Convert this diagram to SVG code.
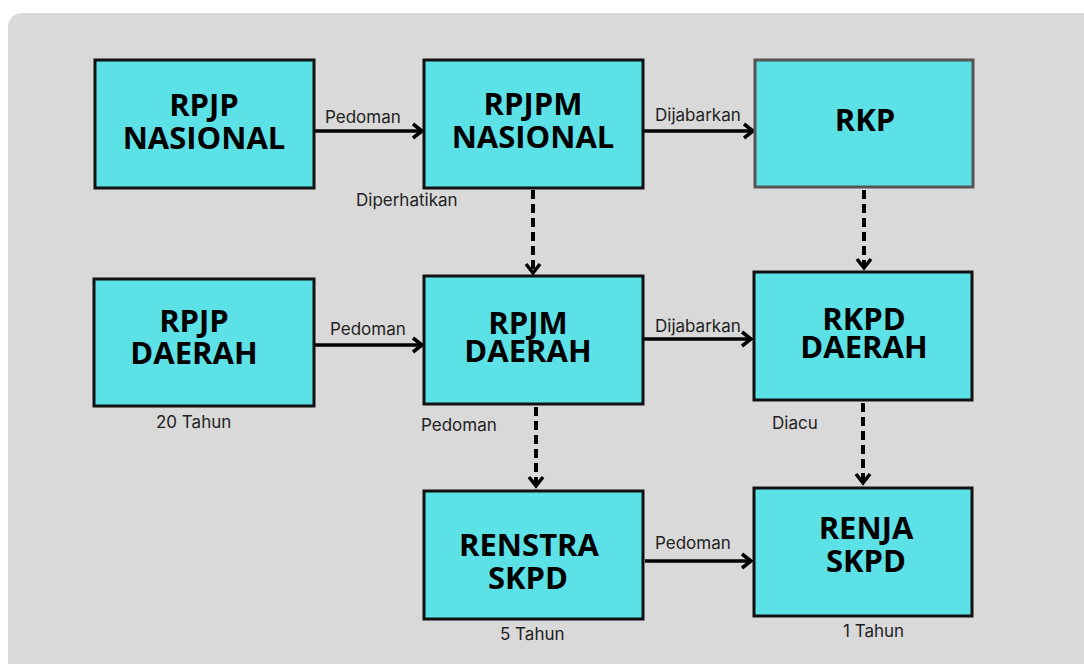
<svg xmlns="http://www.w3.org/2000/svg" width="1084" height="664" viewBox="0 0 1084 664">
<defs>
<marker id="ah" markerUnits="userSpaceOnUse" markerWidth="16" markerHeight="18" refX="12" refY="9" orient="auto">
<path d="M3,2 L12,9 L3,16" fill="none" stroke="#000" stroke-width="3.5"/>
</marker>
</defs>
<style>
.box{fill:#5ce1e6;stroke:#111;stroke-width:3}
.box2{fill:#5ce1e6;stroke:#555;stroke-width:3}
.t{font-family:"Open Sans","Noto Sans",sans-serif;font-weight:700;font-size:31px;fill:#000;text-anchor:middle}
.l{font-family:Inter,"Noto Sans",sans-serif;font-size:17px;fill:#222}
.c{stroke:#000;stroke-width:3.5;fill:none;marker-end:url(#ah)}
.d{stroke:#000;stroke-width:4;fill:none;stroke-dasharray:9 5;marker-end:url(#ah)}
</style>
<rect x="8" y="13" width="1100" height="680" rx="14" fill="#d9d9d9"/>
<g id="connectors">
<line class="c" x1="315" y1="131" x2="422" y2="131"/>
<line class="c" x1="644" y1="131" x2="753" y2="131"/>
<line class="c" x1="315" y1="345" x2="422" y2="345"/>
<line class="c" x1="644" y1="339" x2="751" y2="339"/>
<line class="c" x1="645" y1="561" x2="751" y2="561"/>
<line class="d" x1="533" y1="190" x2="533" y2="273"/>
<line class="d" x1="864" y1="190" x2="864" y2="268"/>
<line class="d" x1="536" y1="407" x2="536" y2="486"/>
<line class="d" x1="863" y1="403" x2="863" y2="483"/>
<text class="l" x="325" y="123">Pedoman</text>
<text class="l" x="655" y="121">Dijabarkan</text>
<text class="l" x="356" y="206">Diperhatikan</text>
<text class="l" x="330" y="335">Pedoman</text>
<text class="l" x="655" y="332">Dijabarkan</text>
<text class="l" x="421" y="431">Pedoman</text>
<text class="l" x="772" y="429">Diacu</text>
<text class="l" x="655" y="549">Pedoman</text>
</g>
<g id="rpjp-nasional">
<rect class="box" x="95" y="60" width="219" height="128"/>
<text class="t" x="204" y="116">RPJP<tspan x="204" dy="33">NASIONAL</tspan></text>
</g>
<g id="rpjpm-nasional">
<rect class="box" x="424" y="60" width="219" height="128"/>
<text class="t" x="533" y="115">RPJPM<tspan x="533" dy="33">NASIONAL</tspan></text>
</g>
<g id="rkp">
<rect class="box2" x="755" y="60" width="218" height="127"/>
<text class="t" x="865" y="131">RKP</text>
</g>
<g id="rpjp-daerah">
<rect class="box" x="94" y="279" width="220" height="127"/>
<text class="t" x="194" y="332">RPJP<tspan x="194" dy="32">DAERAH</tspan></text>
<text class="l" x="156" y="428">20 Tahun</text>
</g>
<g id="rpjm-daerah">
<rect class="box" x="424" y="276" width="219" height="128"/>
<text class="t" x="528" y="334">RPJM<tspan x="528" dy="28">DAERAH</tspan></text>
</g>
<g id="rkpd-daerah">
<rect class="box" x="754" y="272" width="218" height="128"/>
<text class="t" x="864" y="330">RKPD<tspan x="864" dy="28">DAERAH</tspan></text>
</g>
<g id="renstra-skpd">
<rect class="box" x="424" y="491" width="219" height="128"/>
<text class="t" x="529" y="556">RENSTRA<tspan x="528" dy="33">SKPD</tspan></text>
<text class="l" x="500" y="640">5 Tahun</text>
</g>
<g id="renja-skpd">
<rect class="box" x="754" y="488" width="218" height="128"/>
<text class="t" x="866" y="539">RENJA<tspan x="866" dy="33">SKPD</tspan></text>
<text class="l" x="843" y="637">1 Tahun</text>
</g>
</svg>
